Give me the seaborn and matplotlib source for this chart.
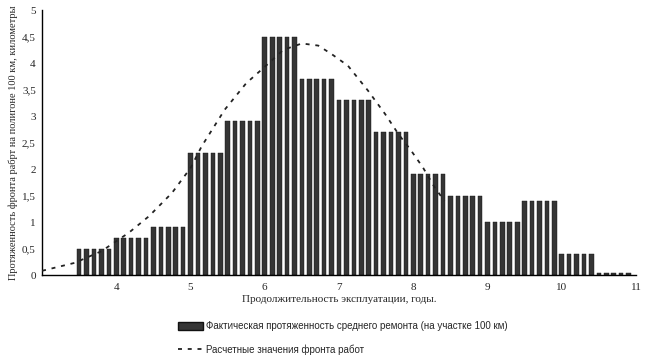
import numpy as np
import pandas as pd
import matplotlib
matplotlib.use("Agg")
import matplotlib.pyplot as plt
from matplotlib.lines import Line2D
from matplotlib.patches import Patch
import seaborn as sns

# --- data ---
group_starts = [3.5, 4.0, 4.5, 5.0, 5.5, 6.0, 6.5, 7.0, 7.5, 8.0, 8.5, 9.0, 9.5, 10.0, 10.5]
group_heights = [0.5, 0.7, 0.9, 2.3, 2.9, 4.5, 3.7, 3.3, 2.7, 1.9, 1.5, 1.0, 1.4, 0.4, 0.03]
bar_offsets = [0.0, 0.1, 0.2, 0.3, 0.4]  # five thin bars in every half-year interval

curve_x = [3.0, 3.44, 3.8, 4.17, 4.44, 4.75, 5.0, 5.15, 5.46, 5.75, 6.0, 6.25, 6.5,
           6.72, 6.9, 7.12, 7.39, 7.62, 7.8, 7.97, 8.13, 8.29, 8.42]
curve_y = [0.08, 0.23, 0.45, 0.80, 1.11, 1.55, 2.02, 2.43, 3.12, 3.62, 3.93, 4.25, 4.37,
           4.33, 4.17, 3.95, 3.48, 3.04, 2.66, 2.35, 2.03, 1.65, 1.40]

x_ticks = [4, 5, 6, 7, 8, 9, 10, 11]
y_ticks = [0, 0.5, 1, 1.5, 2, 2.5, 3, 3.5, 4, 4.5, 5]
y_tick_labels = ["0", "0,5", "1", "1,5", "2", "2,5", "3", "3,5", "4", "4,5", "5"]

x_label = "Продолжительность эксплуатации, годы."
y_label = "Протяженность фронта рабрт на полигоне 100 км, километры"
legend_bars = "Фактическая протяженность среднего ремонта (на участке 100 км)"
legend_line = "Расчетные значения фронта работ"

# --- build tables ---
bars = pd.DataFrame(
    [(round(s + o, 2), h) for s, h in zip(group_starts, group_heights) for o in bar_offsets],
    columns=["x", "h"],
)
curve = pd.DataFrame({"x": curve_x, "y": curve_y})

sns.set_theme(style="white")
plt.rcParams["font.family"] = ["Liberation Serif", "DejaVu Serif"]

fig = plt.figure(figsize=(6.47, 3.60), dpi=100)
ax = fig.add_axes([0.065, 0.236, 0.918, 0.736])

bar_color = "#353535"
sns.barplot(data=bars, x="x", y="h", native_scale=True, width=0.62,
            color=bar_color, saturation=1, edgecolor="#111111", linewidth=0.3,
            ax=ax, zorder=2)
sns.lineplot(data=curve, x="x", y="y", ax=ax, color="#222222", linewidth=1.3,
             linestyle=(0, (2.2, 3.2)), zorder=3)

ax.set_xlim(3, 11)
ax.set_ylim(0, 5)
ax.set_xticks(x_ticks)
ax.set_xticklabels([str(t) for t in x_ticks], fontsize=8)
ax.set_yticks(y_ticks)
ax.set_yticklabels(y_tick_labels, fontsize=8)
ax.tick_params(axis="y", direction="inout", length=5, width=0.8, pad=2, color="black")
ax.tick_params(axis="x", direction="inout", length=4, width=0.8, pad=4, color="black")
ax.set_xlabel(x_label, fontsize=8, labelpad=2)
ax.set_ylabel(y_label, fontsize=7.5, labelpad=3)

for side in ["top", "right"]:
    ax.spines[side].set_visible(False)
for side in ["left", "bottom"]:
    ax.spines[side].set_color("black")
    ax.spines[side].set_linewidth(1.0)

handles = [
    Patch(facecolor=bar_color, edgecolor="#111111"),
    Line2D([0], [0], color="#222222", linewidth=1.3, linestyle=(0, (2.2, 3.2))),
]
fig.legend(handles, [legend_bars, legend_line], loc="upper left",
           bbox_to_anchor=(0.275, 0.108), frameon=False,
           prop={"family": ["Liberation Sans", "DejaVu Sans"], "size": 7},
           handlelength=2.6, handleheight=0.9, handletextpad=0.3,
           labelspacing=1.35, borderpad=0, borderaxespad=0)

fig.savefig("out.png", dpi=100)
